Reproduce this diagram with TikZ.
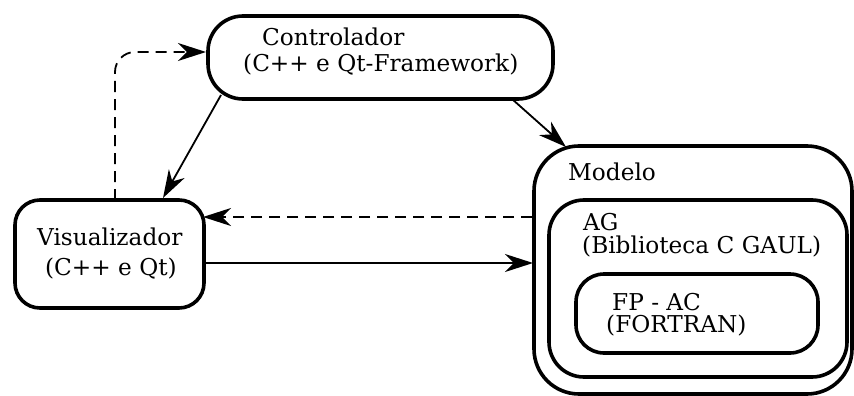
\documentclass[tikz,border=0pt]{standalone}
\usepackage{fontspec}
\setmainfont{DejaVu Serif}
\usetikzlibrary{arrows.meta}
\begin{document}
\begin{tikzpicture}[x=1pt,y=-1pt,
  box/.style={draw,line width=3.6pt,rounded corners=#1},
  box/.default=30pt,
  lbl/.style={anchor=base west,inner sep=0pt,font=\fontsize{23.2}{27}\selectfont},
  conn/.style={line width=1.8pt,-{Stealth[length=28pt,width=18pt,inset=9pt]}},
  dconn/.style={conn,dash pattern=on 11pt off 7pt}]
\useasboundingbox (0,0) rectangle (854,396);
\clip (0,0) rectangle (854,396);
% boxes
\draw[box=35pt] (208,16) rectangle (553,99);
\node[inner sep=0pt,minimum width=345pt,minimum height=83pt] (ctrl) at (380.5,57.5) {};
\draw[box=25pt] (15,200) rectangle (204,308);
\node[inner sep=0pt,minimum width=189pt,minimum height=108pt] (vis) at (109.5,254) {};
\draw[box=45pt] (534,146) rectangle (852,394);
\node[inner sep=0pt,minimum width=318pt,minimum height=248pt] (mod) at (693,270) {};
\draw[box=35pt] (549,200) rectangle (847,377);
\node[inner sep=0pt,minimum width=298pt,minimum height=177pt] (ag) at (698,288.5) {};
\draw[box=28pt] (576,274) rectangle (818,353);
\node[inner sep=0pt,minimum width=242pt,minimum height=79pt] (fp) at (697,313.5) {};
% texts
\node[lbl] (t1) at (262,46) {Controlador};
\node[lbl] (t2) at (243,72) {(C++ e Qt-Framework)};
\node[lbl] (t3) at (37,245) {Visualizador};
\node[lbl] (t4) at (45,275) {(C++ e Qt)};
\node[lbl] (t5) at (568,180) {Modelo};
\node[lbl] (t6) at (583,230) {AG};
\node[lbl] (t7) at (582,253) {(Biblioteca C GAUL)};
\node[lbl] (t8) at (612,310) {FP - AC};
\node[lbl] (t9) at (606,332) {(FORTRAN)};
% connectors
\coordinate (c1) at (221,95);
\coordinate (c2) at (163,198);
\draw[conn] (c1) -- (c2);
\coordinate (c3) at (512,99);
\coordinate (c4) at (566,147);
\draw[conn] (c3) -- (c4);
\coordinate (d1) at (115,200);
\coordinate (d2) at (206,52);
\draw[dconn,rounded corners=20pt] (d1) -- (115,52) -- (d2);
\coordinate (e1) at (532,217);
\coordinate (e2) at (203,217);
\draw[dconn] (e1) -- (e2);
\coordinate (f1) at (204,263);
\coordinate (f2) at (533,263);
\draw[conn] (f1) -- (f2);
\end{tikzpicture}
\end{document}
